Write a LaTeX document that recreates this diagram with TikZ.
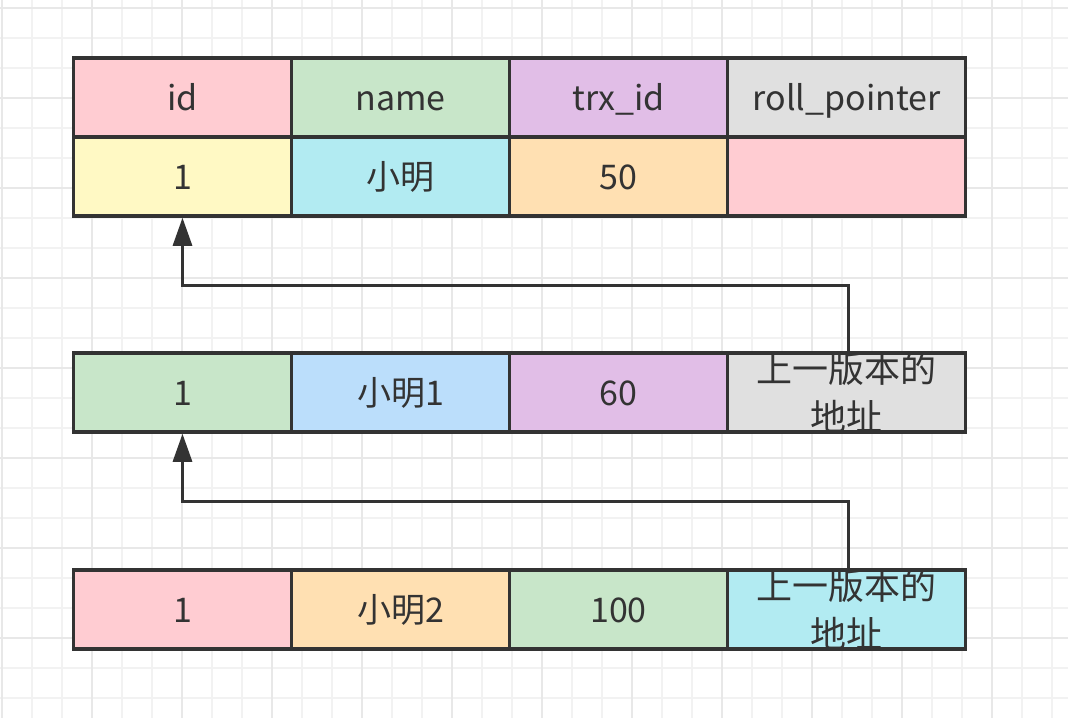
\documentclass[tikz,border=0pt]{standalone}
\usepackage{fontspec}
\newfontfamily\cjk{Noto Sans CJK SC}
\usetikzlibrary{arrows.meta,positioning}

\definecolor{line}{HTML}{333333}
\definecolor{gridminor}{HTML}{F2F2F2}
\definecolor{gridmajor}{HTML}{E8E8E8}
\definecolor{cpink}{HTML}{FFCCD2}
\definecolor{cgreen}{HTML}{C8E6C9}
\definecolor{cpurple}{HTML}{E1BEE7}
\definecolor{cgray}{HTML}{E0E0E0}
\definecolor{cyellow}{HTML}{FFF9C4}
\definecolor{ccyan}{HTML}{B2EBF2}
\definecolor{corange}{HTML}{FFE0B2}
\definecolor{cblue}{HTML}{BBDEFB}

\tikzset{
  cell/.style={draw=line, line width=3.5pt, minimum width=218pt, minimum height=79pt,
    inner sep=0pt, text=line, text height=35pt, text depth=9pt,
    font=\cjk\fontsize{34}{48}\selectfont},
  wide/.style={cell, minimum width=238pt},
  twoline/.style={wide, text height=, text depth=, align=center, inner ysep=-12pt,
    font=\cjk\fontsize{36}{48}\selectfont},
  link/.style={draw=line, line width=3pt, -{Triangle[width=19pt,length=28pt]}}
}

\begin{document}
\begin{tikzpicture}[x=1pt,y=-1pt,node distance=218pt,on grid]
        \useasboundingbox (0,0) rectangle (1068,718);
        % background grid
        \foreach \i in {0,...,35} {
          \draw[gridminor, line width=2pt] (2+30*\i,0) -- (2+30*\i,718);
        }
        \foreach \i in {0,...,23} {
          \draw[gridminor, line width=2pt] (0,8+30*\i) -- (1068,8+30*\i);
        }
        \foreach \i in {0,...,11} {
          \draw[gridmajor, line width=2pt] (2+90*\i,0) -- (2+90*\i,718);
        }
        \foreach \i in {0,...,7} {
          \draw[gridmajor, line width=2pt] (0,8+90*\i) -- (1068,8+90*\i);
        }

        % current record
        \node[cell, fill=cpink] (h_id) at (182.5,97.5) {id};
        \node[cell, fill=cgreen] (h_name) [right=of h_id] {name};
        \node[cell, fill=cpurple] (h_trx) [right=of h_name] {trx\_id};
        \node[wide, fill=cgray] (h_roll) [right=228pt of h_trx] {roll\_pointer};
        \node[cell, fill=cyellow] (r0_id) [below=79pt of h_id] {1};
        \node[cell, fill=ccyan] (r0_name) [right=of r0_id] {小明};
        \node[cell, fill=corange] (r0_trx) [right=of r0_name] {50};
        \node[wide, fill=cpink] (r0_roll) [right=228pt of r0_trx] {};

        % older version 1
        \node[cell, fill=cgreen] (r1_id) [below=216pt of r0_id] {1};
        \node[cell, fill=cblue] (r1_name) [right=of r1_id] {小明1};
        \node[cell, fill=cpurple] (r1_trx) [right=of r1_name] {60};
        \node[twoline, fill=cgray] (r1_roll) [right=228pt of r1_trx] {上一版本的\\地址};

        % older version 2
        \node[cell, fill=cpink] (r2_id) [below=217pt of r1_id] {1};
        \node[cell, fill=corange] (r2_name) [right=of r2_id] {小明2};
        \node[cell, fill=cgreen] (r2_trx) [right=of r2_name] {100};
        \node[twoline, fill=ccyan] (r2_roll) [right=228pt of r2_trx] {上一版本的\\地址};

        \draw[link] ([xshift=2pt]r1_roll.north) -- ++(0,-66) -| (r0_id.south);
        \draw[link] ([xshift=2pt]r2_roll.north) -- ++(0,-67) -| (r1_id.south);
      \end{tikzpicture}
\end{document}
